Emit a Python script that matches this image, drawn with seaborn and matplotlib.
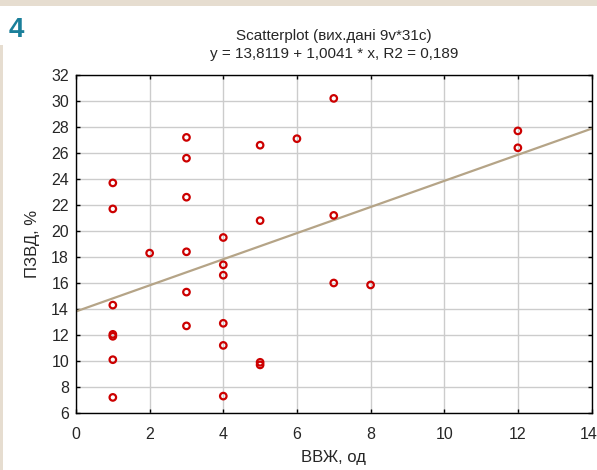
import numpy as np
import pandas as pd
import matplotlib
matplotlib.use("Agg")
import matplotlib.pyplot as plt
from matplotlib.transforms import ScaledTranslation
import seaborn as sns

# data
vvzh = [1, 1, 1, 1, 1, 1, 1,
        2,
        3, 3, 3, 3, 3, 3,
        4, 4, 4, 4, 4, 4,
        5, 5, 5, 5,
        6,
        7, 7, 7,
        8,
        12, 12]
pzvd = [23.7, 21.7, 14.3, 12.05, 11.9, 10.1, 7.2,
        18.3,
        27.2, 25.6, 22.6, 18.4, 15.3, 12.7,
        19.5, 17.4, 16.6, 12.9, 11.2, 7.3,
        26.6, 20.8, 9.9, 9.7,
        27.1,
        30.2, 21.2, 16.0,
        15.85,
        27.7, 26.4]
b0, b1 = 13.8119, 1.0041
x_ticks = [0, 2, 4, 6, 8, 10, 12, 14]
y_ticks = [6, 8, 10, 12, 14, 16, 18, 20, 22, 24, 26, 28, 30, 32]

df = pd.DataFrame({"x": vvzh, "y": pzvd})
line_x = np.array([0, 14])
line_df = pd.DataFrame({"x": line_x, "y": b0 + b1 * line_x})

sns.set_style("white")
plt.rcParams["font.family"] = ["Liberation Sans", "DejaVu Sans"]

fig = plt.figure(figsize=(5.97, 4.70), dpi=100)
fig.patch.set_facecolor("white")
beige = "#e6ddd0"
# frame strips
fig.add_artist(plt.Rectangle((0, 1 - 6 / 470), 1, 6 / 470, transform=fig.transFigure,
                             color=beige, lw=0))
fig.add_artist(plt.Rectangle((0, 0), 3 / 597, 1 - 45 / 470, transform=fig.transFigure,
                             color=beige, lw=0))
fig.text(9 / 597, 1 - 37 / 470, "4", color="#1a7f9a", fontsize=20, fontweight="bold")

ax = fig.add_axes([76 / 597, 1 - 413 / 470, (591.5 - 76) / 597, 338 / 470])
ax.grid(True, color="#cccccc", lw=1)
ax.set_axisbelow(True)
sns.lineplot(data=line_df, x="x", y="y", ax=ax, color="#b5a487", lw=1.6, zorder=2)
sns.scatterplot(data=df, x="x", y="y", ax=ax, marker="o", s=22,
                facecolor="none", edgecolor="#cc0000", linewidth=1.6, zorder=3)

ax.set_xlim(0, 14)
ax.set_ylim(6, 32)
ax.set_xticks(x_ticks)
ax.set_yticks(y_ticks)
ax.tick_params(direction="in", length=3, width=1, color="black", labelsize=11.5,
               top=True, right=True, bottom=True, left=True)
ax.tick_params(axis="x", pad=10)
ax.tick_params(axis="y", pad=5)
for s in ax.spines.values():
    s.set_visible(True)
    s.set_color("black")
    s.set_linewidth(1)

# nudge the last x label left so it stays inside the picture
last = ax.xaxis.get_major_ticks()[-1].label1
last.set_transform(last.get_transform() + ScaledTranslation(-2.5 / 100, 0, fig.dpi_scale_trans))

ax.set_xlabel("ВВЖ, од", fontsize=12, labelpad=6)
ax.set_ylabel("ПЗВД, %", fontsize=12, labelpad=8)
ax.set_title("Scatterplot (вих.дані 9v*31c)\ny = 13,8119 + 1,0041 * x, R2 = 0,189",
             fontsize=11, pad=12, linespacing=1.35)

fig.savefig("out.png", dpi=100)
